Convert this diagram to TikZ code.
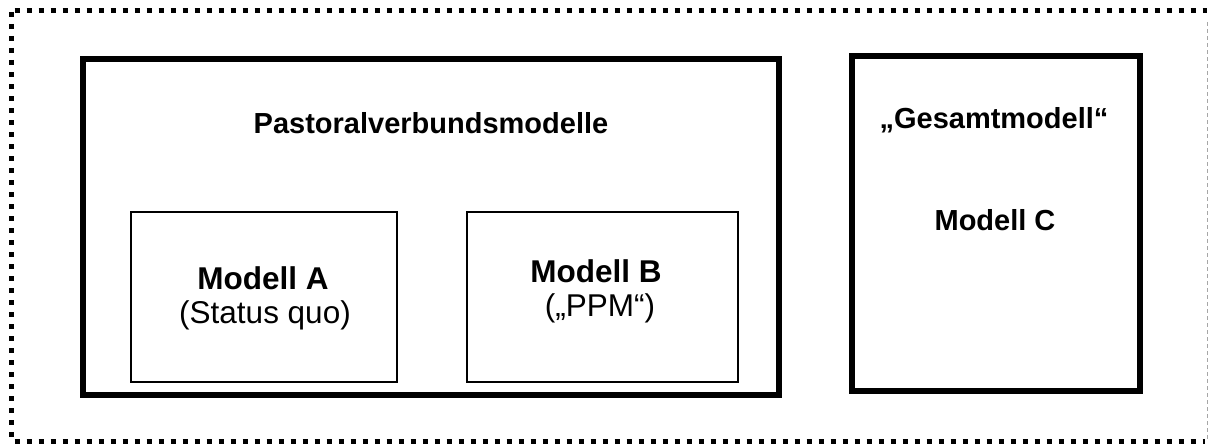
\documentclass[tikz,border=0pt]{standalone}
\usepackage{fontspec}
\setmainfont{Liberation Sans}
\begin{document}
\begin{tikzpicture}[x=1pt,y=-1pt,
  bigbox/.style={draw=black,line width=6pt,inner sep=0pt,fill=none},
  smallbox/.style={draw=black,line width=1.8pt,inner sep=0pt},
  lbl/.style={anchor=base,inner sep=0pt,font=\fontsize{31.5}{36}\selectfont},
  blbl/.style={lbl,font=\fontsize{31.5}{36}\selectfont\bfseries},
  tlbl/.style={lbl,font=\fontsize{29}{34}\selectfont\bfseries},
  frame/.style={line width=5pt,dash pattern=on 5pt off 7pt}]
\useasboundingbox (0,0) rectangle (1209,444);
% outer frame
\coordinate (tl) at (11,11);
\coordinate (tr) at (1207,11);
\coordinate (bl) at (11,441.5);
\coordinate (br) at (1207,441.5);
\draw[frame] ([xshift=3.5pt]tl) -- (tr);
\draw[frame] ([yshift=-1pt]tl) -- (bl);
\draw[frame] ([xshift=3.5pt]bl) -- ([xshift=-2pt]br);
\draw[gray!70,line width=1pt,dash pattern=on 4pt off 3pt] ([yshift=-11pt]tr) -- (br);
% boxes
\node[bigbox,minimum width=696pt,minimum height=335.5pt] (pv) at (431,227.25) {};
\node[bigbox,minimum width=288pt,minimum height=335pt] (gm) at (996,223.5) {};
\node[smallbox,minimum width=266pt,minimum height=170pt] (ma) at (264,297) {};
\node[smallbox,minimum width=271pt,minimum height=170pt] (mb) at (602.5,297) {};
% texts
\node[tlbl] (pvt) at (431,133) {Pastoralverbundsmodelle};
\node[blbl] (mat) at (263,289.5) {Modell A};
\node[lbl] (mas) at (265,323.5) {(Status quo)};
\node[blbl] (mbt) at (596,282.5) {Modell B};
\node[lbl] (mbs) at (600,316.5) {(„PPM“)};
\node[tlbl] (gmt) at (994,128) {„Gesamtmodell“};
\node[tlbl] (gmc) at (995,230) {Modell C};
\end{tikzpicture}
\end{document}
